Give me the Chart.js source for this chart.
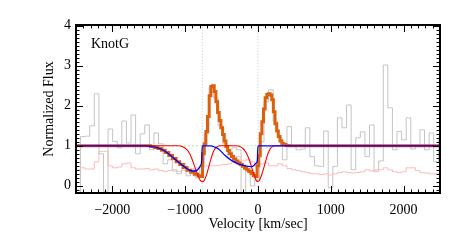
<!DOCTYPE html>
<html>
<head>
<meta charset="utf-8">
<script src="https://cdn.jsdelivr.net/npm/chart.js@4/dist/chart.umd.min.js"></script>
<style>
html,body{margin:0;padding:0;background:#fff;}
#wrap{width:463px;height:245px;position:relative;}
</style>
</head>
<body>
<div id="wrap"><canvas id="c" width="463" height="245"></canvas></div>
<script>
// ---------- data ----------
const xTicks = [-2000, -1000, 0, 1000, 2000];
const yTicks = [0, 1, 2, 3, 4];
const labelText = "KnotG";
const markerVelocities = [-765, 0];

// observed spectrum (gray histogram), bin centres in km/s
const dataV = [-2469,-2406,-2343,-2280,-2217,-2154,-2091,-2028,-1965,-1902,
  -1839,-1776,-1713,-1650,-1587,-1524,-1461,-1398,-1335,-1272,
  -1209,-1146,-1083,-1020,-957,-894,-831,-768,-705,-642,
  -579,-516,-453,-390,-327,-264,-201,-138,-75,-12,
  51,114,177,240,303,366,429,492,555,618,
  681,744,807,870,933,996,1059,1122,1185,1248,
  1311,1374,1437,1500,1563,1626,1689,1752,1815,1878,
  1941,2004,2067,2130,2193,2256,2319,2382,2445,2508];
const dataFlux = [-0.2,1.23,1.24,1.5,2.3,0.8,-0.15,1.42,1.11,0.95,
  1.62,1.07,1.77,0.8,1.3,1.52,0.9,1.32,1.05,0.55,
  0.65,0.4,0.3,0.55,0.25,0.4,0.2,0.5,1.3,2.45,
  2.2,1.5,1.05,0.7,0.95,0.9,-0.2,0.35,0.0,0.15,
  1.1,2.1,2.4,1.6,1.2,0.65,1.48,0.98,0.9,0.92,
  1.45,0.73,0.5,0.48,1.37,-0.05,0.48,1.7,1.45,2.02,
  0.4,1.2,1.35,0.73,1.52,0.36,0.62,3.02,1.95,0.9,
  1.36,1.15,1.7,0.92,1.0,1.4,0.9,1.32,0.6,1.2];
const errFlux = [0.4,0.45,0.42,0.42,0.6,0.86,0.86,0.5,0.45,0.47,
  0.55,0.57,0.45,0.42,0.42,0.43,0.4,0.42,0.38,0.36,
  0.38,0.37,0.36,0.38,0.4,0.42,0.45,0.47,0.5,0.5,
  0.5,0.52,0.53,0.55,0.6,0.73,0.62,0.65,0.6,0.48,
  0.55,0.57,0.5,0.5,0.55,0.5,0.43,0.4,0.38,0.35,
  0.33,0.3,0.3,0.28,0.3,0.27,0.3,0.33,0.35,0.33,
  0.32,0.33,0.35,0.4,0.37,0.4,0.4,0.45,0.4,0.35,
  0.33,0.35,0.45,0.45,0.38,0.33,0.32,0.3,0.3,0.3];

// total model (orange histogram)
const fitV = [-2500,-1500,-1450,-1400,-1350,-1300,-1250,-1200,-1150,-1100,-1050,-1000,-950,-900,-850,-800,-775,
  -750,-727,-705,-682,-659,-636,-613,-590,-567,-544,-521,-498,-475,-452,-429,-406,
  -380,-350,-320,-290,-260,-230,-200,-170,-140,-110,-80,-50,-25,
  0,20,42,64,87,110,132,155,178,200,222,245,268,290,315,340,370,400,450,2500];
const fitFlux = [1.0,1.0,0.98,0.96,0.93,0.89,0.83,0.76,0.68,0.6,0.53,0.46,0.39,0.34,0.29,0.25,0.23,
  0.8,1.05,1.36,1.73,2.25,2.48,2.5,2.36,2.1,1.83,1.63,1.45,1.28,1.12,0.98,0.88,
  0.8,0.73,0.67,0.62,0.57,0.53,0.49,0.44,0.4,0.36,0.31,0.26,0.23,
  0.5,0.75,1.3,1.6,1.92,2.2,2.28,2.3,2.27,2.15,1.85,1.55,1.37,1.23,1.12,1.06,1.03,1.01,1.0,1.0];

// absorption profile (red)
const absV = [-2500,-1100,-1040,-980,-940,-900,-860,-820,-790,-765,-740,-710,-680,-650,-620,-590,-560,-520,
  -300,-250,-200,-160,-120,-80,-50,-20,0,20,50,80,110,140,170,200,240,2500];
const absFlux = [1.0,1.0,0.98,0.91,0.81,0.64,0.43,0.23,0.13,0.1,0.13,0.26,0.45,0.65,0.82,0.93,0.98,1.0,
  1.0,0.98,0.92,0.82,0.65,0.42,0.25,0.12,0.11,0.14,0.27,0.45,0.65,0.82,0.93,0.98,1.0,1.0];

// outflow component (blue)
const outV = [-2500,-1550,-1450,-1400,-1300,-1200,-1100,-1000,-950,-900,-860,-820,-790,-775,-765,
  -640,-600,-543,-452,-360,-270,-178,-100,-60,-30,-10,0,2500];
const outFlux = [1.0,1.0,0.98,0.96,0.89,0.76,0.6,0.46,0.4,0.37,0.37,0.42,0.5,0.6,1.0,
  1.0,0.97,0.92,0.76,0.63,0.55,0.5,0.48,0.5,0.56,0.62,1.0,1.0];

// emission-only component (faint green)
const emV = [-2500,-770,-760,-700,-620,-550,-10,0,60,140,200,2500];
const emFlux = [1.0,1.0,0.8,0.88,0.96,1.0,1.0,0.75,0.88,0.97,1.0,1.0];

// ---------- build ----------
const pts = (xs, ys) => xs.map((x, i) => ({x: x, y: ys[i]}));
const SERIF = "'Liberation Serif', 'DejaVu Serif', serif";

const markerSets = markerVelocities.map(v => ({
  data: [{x: v, y: -1}, {x: v, y: 5}],
  borderColor: '#c8c8c8', borderWidth: 1, borderDash: [1, 2],
  pointRadius: 0, order: 6
}));

const framePlugin = {
  id: 'frame',
  afterDatasetsDraw(chart) {
    const {ctx, chartArea: a, scales: {x, y}} = chart;
    ctx.save();
    ctx.strokeStyle = '#000';
    ctx.lineWidth = 1;
    ctx.beginPath();
    for (let k = -25; k <= 25; k++) {
      const v = k * 100;
      const px = Math.round(x.getPixelForValue(v)) + 0.5;
      if (px < a.left || px > a.right) continue;
      const len = (k % 10 === 0) ? 7 : 3.5;
      ctx.moveTo(px, a.bottom); ctx.lineTo(px, a.bottom - len);
      ctx.moveTo(px, a.top); ctx.lineTo(px, a.top + len);
    }
    for (let k = -1; k <= 40; k++) {
      const v = k / 10;
      const py = Math.round(y.getPixelForValue(v)) + 0.5;
      if (py < a.top || py > a.bottom) continue;
      const len = (k % 10 === 0) ? 7 : 3.5;
      ctx.moveTo(a.left, py); ctx.lineTo(a.left + len, py);
      ctx.moveTo(a.right, py); ctx.lineTo(a.right - len, py);
    }
    ctx.stroke();
    ctx.lineWidth = 2;
    ctx.strokeRect(a.left, a.top, a.right - a.left, a.bottom - a.top);
    ctx.fillStyle = '#000';
    ctx.font = '14px ' + SERIF;
    ctx.textBaseline = 'alphabetic';
    ctx.fillText(labelText, a.left + 15, a.top + 23);
    ctx.restore();
  }
};

new Chart(document.getElementById('c'), {
  type: 'line',
  data: {
    datasets: [
      {data: pts(outV, outFlux), borderColor: '#0000ff', borderWidth: 1.3, pointRadius: 0,
       cubicInterpolationMode: 'monotone', order: 0},
      {data: pts(absV, absFlux), borderColor: '#ff0000', borderWidth: 1.1, pointRadius: 0,
       cubicInterpolationMode: 'monotone', order: 1},
      {data: pts(fitV, fitFlux), borderColor: '#dc5f0c', borderWidth: 3, pointRadius: 0,
       stepped: 'middle', order: 2},
      {data: pts(emV, emFlux), borderColor: '#a8f0a8', borderWidth: 1, borderDash: [2, 2], pointRadius: 0,
       order: 3},
      {data: pts(dataV, errFlux), borderColor: '#ffb8b8', borderWidth: 1, pointRadius: 0,
       stepped: 'middle', order: 4},
      {data: pts(dataV, dataFlux), borderColor: '#c4c4c4', borderWidth: 1, pointRadius: 0,
       stepped: 'middle', order: 5},
      ...markerSets
    ]
  },
  options: {
    responsive: false,
    animation: false,
    events: [],
    layout: {padding: {top: 25, right: 23, left: 0, bottom: 0}},
    plugins: {legend: {display: false}, tooltip: {enabled: false}},
    scales: {
      x: {
        type: 'linear', min: -2500, max: 2500,
        afterFit(s) { s.height = 52; },
        afterBuildTicks(s) { s.ticks = xTicks.map(v => ({value: v})); },
        grid: {display: false, drawTicks: false},
        border: {display: false},
        ticks: {
          color: '#000', padding: 9, maxRotation: 0, autoSkip: false,
          font: {family: SERIF, size: 14},
          callback: v => (v < 0 ? '\u2212' + Math.abs(v) : String(v))
        },
        title: {display: true, text: 'Velocity [km/sec]', color: '#000',
          font: {family: SERIF, size: 14}, padding: {top: 0, bottom: 12}}
      },
      y: {
        type: 'linear', min: -0.18, max: 4.02,
        afterFit(s) { s.width = 76; },
        afterBuildTicks(s) { s.ticks = yTicks.map(v => ({value: v})); },
        grid: {display: false, drawTicks: false},
        border: {display: false},
        ticks: {color: '#000', padding: 5, font: {family: SERIF, size: 14}},
        title: {display: true, text: 'Normalized Flux', color: '#000',
          font: {family: SERIF, size: 14}, padding: {top: 41, bottom: 0}}
      }
    }
  },
  plugins: [framePlugin]
});
</script>
</body>
</html>
